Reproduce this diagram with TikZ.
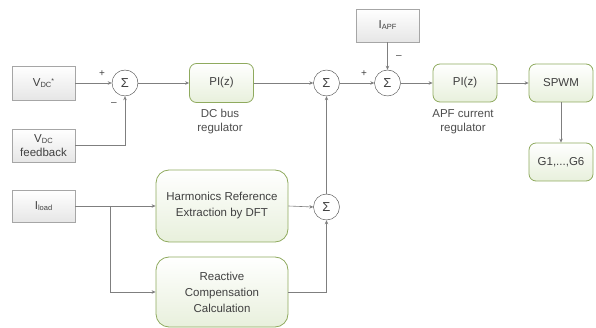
\documentclass[tikz,border=0pt]{standalone}
\usepackage{fontspec}
\setmainfont{Liberation Sans}
\usetikzlibrary{arrows.meta}
\definecolor{linec}{HTML}{7F7F7F}
\definecolor{grayb}{HTML}{A6A6A6}
\definecolor{grayf}{HTML}{E6E6E6}
\definecolor{greenb}{HTML}{8FAA5E}
\definecolor{greenf}{HTML}{E8F0DC}
\definecolor{textc}{HTML}{404040}
\definecolor{labc}{HTML}{4D4D4D}
\newcommand{\smallsub}[1]{\raisebox{-1pt}{\fontsize{7.5}{8}\selectfont #1}}
\begin{document}
\begin{tikzpicture}[x=1pt,y=-1pt,
  graybox/.style={draw=grayb, top color=white, bottom color=grayf, minimum width=63pt, minimum height=34pt, inner sep=0pt, align=center, font=\fontsize{11.5}{13}\selectfont, text=textc},
  greenbox/.style={draw=greenb, line width=0.8pt, top color=white, bottom color=greenf, rounded corners=7pt, minimum width=64pt, minimum height=38pt, inner sep=0pt, align=center, font=\fontsize{11.5}{13}\selectfont, text=textc},
  bigbox/.style={greenbox, rounded corners=13pt, minimum width=132pt, minimum height=71pt, font=\fontsize{11.5}{16}\selectfont},
  sumnode/.style={circle, draw=textc, fill=white, minimum size=26pt, inner sep=0pt, font=\fontsize{13}{13}\selectfont, text=textc},
  conn/.style={draw=linec, line width=0.6pt, -{Stealth[length=4pt,width=3.5pt]}},
  plain/.style={draw=linec, line width=0.6pt},
  sign/.style={font=\fontsize{10}{10}\selectfont, text=textc, inner sep=0pt},
  lab/.style={font=\fontsize{11.5}{14}\selectfont, text=labc, align=center, inner sep=0pt}
]
\useasboundingbox (0,0) rectangle (596,328);

\node[graybox] (vdc) at (43.5,83) {V\smallsub{DC}\raisebox{3pt}{\fontsize{7}{7}\selectfont *}};
\node[graybox, minimum height=33pt, font=\fontsize{11.5}{14}\selectfont] (vfb) at (43.5,145.5) {V\smallsub{DC}\\feedback};
\node[graybox, minimum height=32pt] (iload) at (43.5,206) {I\smallsub{load}};
\node[graybox, minimum height=33pt] (iapf) at (387.5,25.5) {I\smallsub{APF}};

\node[sumnode] (s1) at (125,83) {Σ};
\node[sumnode] (s2) at (326.5,83) {Σ};
\node[sumnode] (s3) at (387.5,83) {Σ};
\node[sumnode] (s4) at (326.5,207) {Σ};

\node[greenbox, minimum height=39pt] (pi1) at (221.5,83) {PI(z)};
\node[greenbox] (pi2) at (465,83) {PI(z)};
\node[greenbox] (spwm) at (561,83) {SPWM};
\node[greenbox] (g) at (561,162) {G1,...,G6};
\node[bigbox, minimum height=72pt] (harm) at (222,206) {Harmonics Reference\\Extraction by DFT};
\node[bigbox, minimum height=70pt] (react) at (222,292) {Reactive\\Compensation\\Calculation};

\node[lab] (lab1) at (220,122) {DC bus\\regulator};
\node[lab] (lab2) at (463,121.5) {APF current\\regulator};

\node[sign] (p1) at (102,74) {+};
\node[sign] (m1) at (114,104) {\textendash};
\node[sign] (p3) at (364,74) {+};
\node[sign] (m3) at (399,57) {\textendash};

\coordinate (br) at (110,206);

\draw[conn] (vdc.east) -- (s1.west);
\draw[conn] (vfb.east) -| (s1.south);
\draw[conn] (s1.east) -- (pi1.west);
\draw[conn] (pi1.east) -- (s2.west);
\draw[conn] (s2.east) -- (s3.west);
\draw[conn] (iapf.south) -- (s3.north);
\draw[conn] (s3.east) -- (pi2.west);
\draw[conn] (pi2.east) -- (spwm.west);
\draw[conn] (spwm.south) -- (g.north);
\draw[conn] (iload.east) -- (harm.west);
\draw[conn] (br) |- (react.west);
\draw[conn] (harm.east) -- (s4.west);
\draw[conn] (react.east) -| (s4.south);
\draw[conn] (s4.north) -- (s2.south);
\end{tikzpicture}
\end{document}
